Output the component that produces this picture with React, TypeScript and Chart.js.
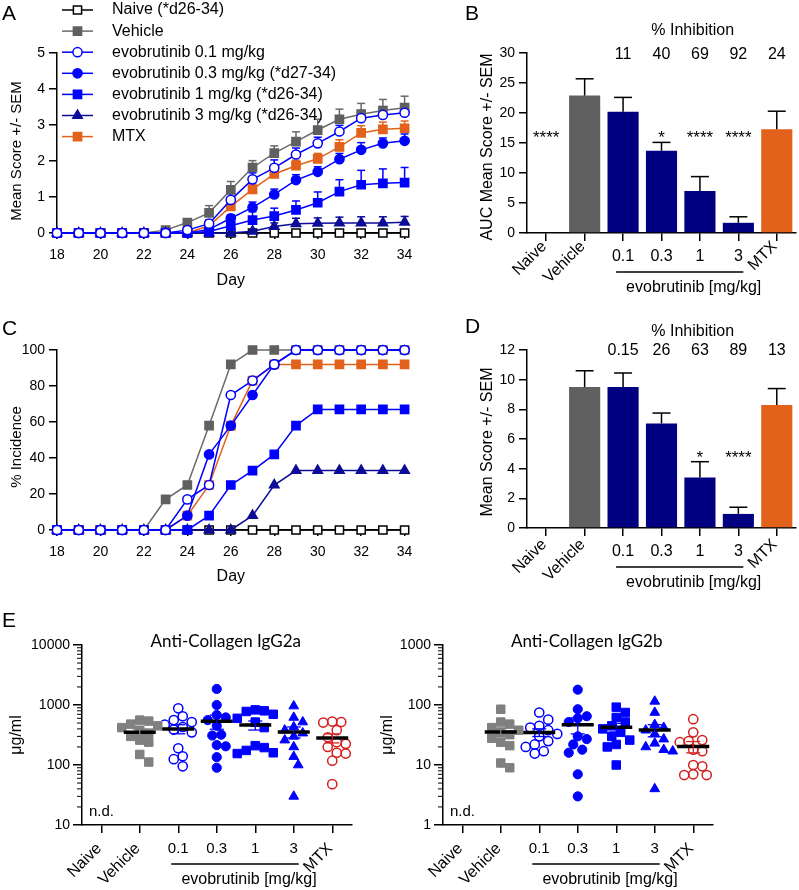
import React, { useEffect, useRef } from 'react';
import { Chart, registerables } from 'chart.js';

Chart.register(...registerables);

const FONT = '"Liberation Sans", Arial, Helvetica, sans-serif';
const TITLE_FONT = 'Lato, "Open Sans", sans-serif';
Chart.defaults.font.family = FONT;
Chart.defaults.color = '#000';

// ---------------- data ----------------
const DAYS = [18, 19, 20, 21, 22, 23, 24, 25, 26, 27, 28, 29, 30, 31, 32, 33, 34];

// Panel A: mean clinical score
const SCORE_NAIVE = [0, 0, 0, 0, 0, 0, 0, 0, 0, 0, 0, 0, 0, 0, 0, 0, 0];
const SCORE_VEHICLE = [0, 0, 0, 0, 0, 0.08, 0.29, 0.56, 1.2, 1.82, 2.22, 2.54, 2.86, 3.16, 3.3, 3.4, 3.48];
const SCORE_EVO01 = [0, 0, 0, 0, 0, 0, 0.08, 0.26, 0.92, 1.49, 1.81, 2.18, 2.49, 2.82, 3.19, 3.28, 3.34];
const SCORE_EVO03 = [0, 0, 0, 0, 0, 0, 0, 0.1, 0.41, 0.71, 1.07, 1.47, 1.7, 2.05, 2.31, 2.49, 2.56];
const SCORE_EVO1 = [0, 0, 0, 0, 0, 0, 0, 0.04, 0.2, 0.36, 0.47, 0.64, 0.84, 1.15, 1.34, 1.38, 1.4];
const SCORE_EVO3 = [0, 0, 0, 0, 0, 0, 0, 0, 0, 0.05, 0.18, 0.26, 0.27, 0.28, 0.28, 0.28, 0.3];
const SCORE_MTX = [0, 0, 0, 0, 0, 0, 0, 0.2, 0.74, 1.21, 1.64, 1.87, 2.06, 2.39, 2.78, 2.88, 2.91];

const SEM_NAIVE = [0, 0, 0, 0, 0, 0, 0, 0, 0, 0, 0, 0, 0, 0, 0, 0, 0];
const SEM_VEHICLE = [0, 0, 0, 0, 0, 0.05, 0.06, 0.2, 0.23, 0.19, 0.2, 0.27, 0.3, 0.28, 0.3, 0.31, 0.32];
const SEM_EVO01 = [0, 0, 0, 0, 0, 0, 0.05, 0.1, 0.18, 0.18, 0.22, 0.18, 0.17, 0.17, 0.21, 0.23, 0.22];
const SEM_EVO03 = [0, 0, 0, 0, 0, 0, 0, 0.05, 0.1, 0.15, 0.15, 0.15, 0.14, 0.16, 0.2, 0.15, 0.19];
const SEM_EVO1 = [0, 0, 0, 0, 0, 0, 0, 0.03, 0.1, 0.23, 0.22, 0.25, 0.3, 0.33, 0.4, 0.4, 0.42];
const SEM_EVO3 = [0, 0, 0, 0, 0, 0, 0, 0, 0, 0.04, 0.1, 0.15, 0.15, 0.16, 0.17, 0.17, 0.16];
const SEM_MTX = [0, 0, 0, 0, 0, 0, 0, 0.1, 0.15, 0.15, 0.15, 0.15, 0.15, 0.2, 0.2, 0.2, 0.2];

// Panel C: % incidence
const INC_NAIVE = [0, 0, 0, 0, 0, 0, 0, 0, 0, 0, 0, 0, 0, 0, 0, 0, 0];
const INC_VEHICLE = [0, 0, 0, 0, 0, 17, 25, 58, 92, 100, 100, 100, 100, 100, 100, 100, 100];
const INC_EVO01 = [0, 0, 0, 0, 0, 0, 17, 25, 75, 83, 92, 100, 100, 100, 100, 100, 100];
const INC_EVO03 = [0, 0, 0, 0, 0, 0, 8, 42, 58, 75, 92, 100, 100, 100, 100, 100, 100];
const INC_EVO1 = [0, 0, 0, 0, 0, 0, 0, 8, 25, 33, 42, 58, 67, 67, 67, 67, 67];
const INC_EVO3 = [0, 0, 0, 0, 0, 0, 0, 0, 0, 8, 25, 33, 33, 33, 33, 33, 33];
const INC_MTX = [0, 0, 0, 0, 0, 0, 8, 25, 58, 83, 92, 92, 92, 92, 92, 92, 92];

const LEGEND_LABELS = [
  'Naive (*d26-34)',
  'Vehicle',
  'evobrutinib 0.1 mg/kg',
  'evobrutinib 0.3 mg/kg (*d27-34)',
  'evobrutinib 1 mg/kg (*d26-34)',
  'evobrutinib 3 mg/kg (*d26-34)',
  'MTX',
];

// Panels B, D, E categories
const CATEGORIES = ['Naive', 'Vehicle', '0.1', '0.3', '1', '3', 'MTX'];

// Panel B: AUC
const AUC_MEAN = [0, 22.9, 20.2, 13.7, 7.0, 1.7, 17.3];
const AUC_SEM = [0, 2.8, 2.4, 1.4, 2.4, 1.0, 3.0];
const AUC_INHIB = ['', '', '11', '40', '69', '92', '24'];
const AUC_SIG = ['****', '', '', '*', '****', '****', ''];
const AUC_SIG_LEVEL = 15.7;

// Panel D: final score
const FINAL_MEAN = [0, 9.5, 9.5, 7.05, 3.4, 0.95, 8.3];
const FINAL_SEM = [0, 1.1, 0.95, 0.7, 1.07, 0.45, 1.1];
const FINAL_INHIB = ['', '', '0.15', '26', '63', '89', '13'];
const FINAL_SIG = ['', '', '', '', '*', '****', ''];
const FINAL_SIG_LEVEL = 4.72;

// Panel E: anti-collagen antibodies (µg/ml)
const IGG2A_VEHICLE = [560, 540, 480, 450, 420, 380, 340, 300, 260, 240, 150, 112];
const IGG2A_EVO01 = [880, 650, 560, 520, 470, 430, 390, 350, 190, 140, 125, 95];
const IGG2A_EVO03 = [1850, 1000, 680, 620, 560, 450, 320, 310, 215, 205, 135, 90];
const IGG2A_EVO1 = [830, 800, 780, 700, 600, 520, 420, 210, 195, 175, 160, 155];
const IGG2A_EVO3 = [960, 620, 520, 430, 380, 340, 300, 260, 200, 138, 100, 30];
const IGG2A_MTX = [530, 520, 510, 380, 290, 240, 225, 200, 160, 155, 118, 48];

const IGG2B_VEHICLE = [85, 52, 48, 42, 38, 35, 32, 28, 24, 21, 10.8, 9];
const IGG2B_EVO01 = [75, 57, 45, 42, 38, 33, 30, 25, 22, 20, 17, 15.5];
const IGG2B_EVO03 = [180, 85, 65, 60, 52, 30, 27, 22, 18, 16, 7, 3];
const IGG2B_EVO1 = [92, 75, 62, 52, 45, 40, 35, 30, 26, 22, 20, 10];
const IGG2B_EVO3 = [115, 75, 47, 42, 38, 33, 27, 23, 20, 18, 17, 4];
const IGG2B_MTX = [58, 35, 26, 25, 24, 18, 17, 10, 9.5, 7, 6.8, 6.8];

const LOG_TICKS_A = [10, 100, 1000, 10000];
const LOG_TICKS_B = [1, 10, 100, 1000];

// ---------------- styles ----------------
const BLUE = '#0000FF';
const NAVY = '#000080';
const NAVY_LINE = '#0C0C98';
const GRAY = '#606060';
const ORANGE = '#E2621B';
const RED = '#D41F1F';
const GRAY_E = '#808080';

type SeriesStyle = { line: string; border: string; fill: string; style: string; r: number };
const STYLE: Record<string, SeriesStyle> = {
  naive: { line: '#000000', border: '#000000', fill: '#FFFFFF', style: 'rect', r: 5.8 },
  vehicle: { line: '#6A6A6A', border: GRAY, fill: GRAY, style: 'rect', r: 5.8 },
  evo01: { line: BLUE, border: BLUE, fill: '#FFFFFF', style: 'circle', r: 4.6 },
  evo03: { line: BLUE, border: BLUE, fill: BLUE, style: 'circle', r: 4.6 },
  evo1: { line: BLUE, border: BLUE, fill: BLUE, style: 'rect', r: 5.8 },
  evo3: { line: NAVY_LINE, border: NAVY_LINE, fill: NAVY_LINE, style: 'triangle', r: 5.5 },
  mtx: { line: ORANGE, border: ORANGE, fill: ORANGE, style: 'rect', r: 5.8 },
};
const LEGEND_KEYS = ['naive', 'vehicle', 'evo01', 'evo03', 'evo1', 'evo3', 'mtx'];
const DRAW_ORDER = ['evo01', 'evo03', 'evo1', 'mtx', 'evo3', 'vehicle', 'naive'];

const SCORE: Record<string, number[]> = {
  naive: SCORE_NAIVE, vehicle: SCORE_VEHICLE, evo01: SCORE_EVO01, evo03: SCORE_EVO03,
  evo1: SCORE_EVO1, evo3: SCORE_EVO3, mtx: SCORE_MTX,
};
const SCORE_SEM: Record<string, number[]> = {
  naive: SEM_NAIVE, vehicle: SEM_VEHICLE, evo01: SEM_EVO01, evo03: SEM_EVO03,
  evo1: SEM_EVO1, evo3: SEM_EVO3, mtx: SEM_MTX,
};
const INC: Record<string, number[]> = {
  naive: INC_NAIVE, vehicle: INC_VEHICLE, evo01: INC_EVO01, evo03: INC_EVO03,
  evo1: INC_EVO1, evo3: INC_EVO3, mtx: INC_MTX,
};

const BAR_COLORS = ['#000000', GRAY, NAVY, NAVY, NAVY, NAVY, ORANGE];
const ROTATED = new Set(['Naive', 'Vehicle', 'MTX']);

const E_STYLES = [
  { style: 'rect', r: 6, fill: GRAY_E, border: GRAY_E, lw: 1 },
  { style: 'circle', r: 4.6, fill: 'rgba(0,0,0,0)', border: BLUE, lw: 1.5 },
  { style: 'circle', r: 4.6, fill: BLUE, border: BLUE, lw: 1 },
  { style: 'rect', r: 6, fill: BLUE, border: BLUE, lw: 1 },
  { style: 'triangle', r: 5.6, fill: BLUE, border: BLUE, lw: 1 },
  { style: 'circle', r: 4.6, fill: 'rgba(0,0,0,0)', border: RED, lw: 1.5 },
];

// ---------------- helpers ----------------
function drawText(ctx: CanvasRenderingContext2D, s: string, x: number, y: number, o: any = {}) {
  ctx.save();
  ctx.translate(x, y);
  if (o.rot) ctx.rotate(o.rot);
  ctx.font = `${o.size ?? 15}px ${o.family ?? FONT}`;
  ctx.fillStyle = o.color ?? '#000';
  ctx.textAlign = o.align ?? 'center';
  ctx.textBaseline = o.baseline ?? 'middle';
  ctx.fillText(s, 0, 0);
  ctx.restore();
}

function drawLine(ctx: CanvasRenderingContext2D, x0: number, y0: number, x1: number, y1: number, color = '#000', lw = 1.5) {
  ctx.save();
  ctx.strokeStyle = color;
  ctx.lineWidth = lw;
  ctx.beginPath();
  ctx.moveTo(x0, y0);
  ctx.lineTo(x1, y1);
  ctx.stroke();
  ctx.restore();
}

function drawMarker(ctx: CanvasRenderingContext2D, st: SeriesStyle, x: number, y: number) {
  ctx.save();
  ctx.fillStyle = st.fill;
  ctx.strokeStyle = st.border;
  ctx.lineWidth = 1.5;
  ctx.beginPath();
  const r = st.r;
  if (st.style === 'circle') ctx.arc(x, y, r, 0, Math.PI * 2);
  else if (st.style === 'rect') {
    const s = r * Math.SQRT1_2;
    ctx.rect(x - s, y - s, 2 * s, 2 * s);
  } else {
    ctx.moveTo(x, y - r);
    ctx.lineTo(x + Math.sin((2 * Math.PI) / 3) * r, y + r * 0.5);
    ctx.lineTo(x - Math.sin((2 * Math.PI) / 3) * r, y + r * 0.5);
    ctx.closePath();
  }
  ctx.fill();
  ctx.stroke();
  ctx.restore();
}

const axisGrid = (tickLength: number) => ({
  display: true,
  drawOnChartArea: false,
  drawTicks: true,
  tickLength,
  color: '#000',
  lineWidth: 1.5,
  offset: false,
});
const axisBorder = { display: true, color: '#000', width: 1.5 };

// simple beeswarm (layout only): horizontal offsets in category units
function swarm(values: number[], pxPerDecade = 60, minDist = 9, step = 4.5, catPx = 38.5): number[] {
  const idx = values.map((_, i) => i).sort((a, b) => values[b] - values[a]);
  const placed: { x: number; y: number }[] = [];
  const offs = values.map(() => 0);
  const cands = [0];
  for (let k = 1; k < 12; k++) cands.push(k * step, -k * step);
  for (const i of idx) {
    const y = Math.log10(values[i]) * pxPerDecade;
    for (const c of cands) {
      if (placed.every((p) => Math.hypot(p.x - c, p.y - y) >= minDist)) {
        offs[i] = c;
        placed.push({ x: c, y });
        break;
      }
    }
  }
  return offs.map((o) => o / catPx);
}

function drawCategoryAxis(chart: any, o: { numSize: number; rotDx: number; rotDy: number }) {
  const ctx = chart.ctx as CanvasRenderingContext2D;
  const xs = chart.scales.x;
  const axisY = chart.chartArea.bottom;
  CATEGORIES.forEach((c, i) => {
    const x = xs.getPixelForValue(i);
    if (ROTATED.has(c)) drawText(ctx, c, x + o.rotDx, axisY + o.rotDy, { size: 16, align: 'right', rot: -Math.PI / 4 });
    else drawText(ctx, c, x, axisY + 24, { size: o.numSize });
  });
  const xa = xs.getPixelForValue(2);
  const xb = xs.getPixelForValue(5);
  drawLine(ctx, xa - 7, axisY + 39, xb + 5, axisY + 39, '#000', 1.5);
  drawText(ctx, 'evobrutinib [mg/kg]', (xa + xb) / 2 + 13, axisY + 55, { size: 16 });
}

// ---------------- chart configs ----------------
function lineConfig(kind: 'score' | 'inc', topPad: number, canvasH: number): any {
  const src = kind === 'score' ? SCORE : INC;
  const datasets = DRAW_ORDER.map((key) => {
    const st = STYLE[key];
    return {
      label: key,
      data: DAYS.map((d, i) => ({ x: d, y: src[key][i] })),
      borderColor: st.line,
      borderWidth: 1.5,
      pointStyle: st.style,
      pointRadius: st.r,
      pointBackgroundColor: st.fill,
      pointBorderColor: st.border,
      pointBorderWidth: 1.5,
      tension: 0,
      clip: false,
    };
  });
  const plugin = {
    id: 'lineExtras' + kind,
    beforeDatasetsDraw(chart: any) {
      if (kind !== 'score') return;
      const ctx = chart.ctx;
      const xs = chart.scales.x;
      const ys = chart.scales.y;
      [...DRAW_ORDER].reverse().forEach((key) => {
        const st = STYLE[key];
        DAYS.forEach((d, i) => {
          const sem = SCORE_SEM[key][i];
          if (!sem) return;
          const x = xs.getPixelForValue(d);
          const y0 = ys.getPixelForValue(src[key][i]);
          const y1 = ys.getPixelForValue(src[key][i] + sem);
          drawLine(ctx, x, y0, x, y1, st.line, 1.5);
          drawLine(ctx, x - 4, y1, x + 4, y1, st.line, 1.5);
        });
      });
    },
    afterDraw(chart: any) {
      const ctx = chart.ctx;
      drawText(ctx, kind === 'score' ? 'Mean Score +/- SEM' : '% Incidence', 17, 151, { size: 15, rot: -Math.PI / 2 });
      if (kind !== 'score') return;
      LEGEND_KEYS.forEach((key, i) => {
        const st = STYLE[key];
        const y = 10 + i * 21.1;
        drawLine(ctx, 62, y, 93, y, st.line, 1.5);
        drawMarker(ctx, st, 77.5, y);
        drawText(ctx, LEGEND_LABELS[i], 112, y, { size: 16, align: 'left' });
      });
    },
  };
  return {
    type: 'line',
    data: { datasets },
    plugins: [plugin],
    options: {
      animation: false,
      responsive: false,
      events: [],
      layout: { padding: { left: 0, right: 15, top: topPad, bottom: 0 } },
      plugins: { legend: { display: false }, tooltip: { enabled: false } },
      scales: {
        x: {
          type: 'linear',
          min: 18,
          max: 34,
          ticks: { stepSize: 2, padding: 7.6, font: { size: 14 }, color: '#000' },
          grid: axisGrid(6),
          border: axisBorder,
          title: { display: true, text: 'Day', font: { size: 16 }, color: '#000', padding: { top: 0, bottom: 4.4 } },
          afterFit: (s: any) => { s.height = canvasH - topPad - 180; },
        },
        y: {
          min: 0,
          max: kind === 'score' ? 5 : 100,
          ticks: { stepSize: kind === 'score' ? 1 : 20, padding: 4, font: { size: 14 }, color: '#000' },
          grid: axisGrid(8),
          border: axisBorder,
          afterFit: (s: any) => { s.width = 57; },
        },
      },
    },
  };
}

function barConfig(o: {
  mean: number[]; sem: number[]; inhib: string[]; sig: string[]; sigLevel: number;
  yMax: number; step: number; topPad: number; canvasH: number; areaH: number;
  yTitle: string; inhibTitleY: number; inhibY: number; yTitleY: number; rotDy: number;
}): any {
  const plugin = {
    id: 'barExtras',
    afterDatasetsDraw(chart: any) {
      const ctx = chart.ctx;
      const xs = chart.scales.x;
      const ys = chart.scales.y;
      o.mean.forEach((m, i) => {
        if (!o.sem[i]) return;
        const x = xs.getPixelForValue(i);
        const y0 = ys.getPixelForValue(m);
        const y1 = ys.getPixelForValue(m + o.sem[i]);
        drawLine(ctx, x, y0, x, y1, '#000', 1.5);
        drawLine(ctx, x - 9, y1, x + 9, y1, '#000', 1.5);
      });
    },
    afterDraw(chart: any) {
      const ctx = chart.ctx;
      const xs = chart.scales.x;
      const ys = chart.scales.y;
      drawCategoryAxis(chart, { numSize: 16, rotDx: -2, rotDy: o.rotDy });
      const xa = xs.getPixelForValue(2);
      const xb = xs.getPixelForValue(5);
      drawText(ctx, '% Inhibition', (xa + xb) / 2 + 12, o.inhibTitleY, { size: 16 });
      o.inhib.forEach((t, i) => { if (t) drawText(ctx, t, xs.getPixelForValue(i), o.inhibY, { size: 16 }); });
      o.sig.forEach((t, i) => { if (t) drawText(ctx, t, xs.getPixelForValue(i), ys.getPixelForValue(o.sigLevel), { size: 17 }); });
      drawText(ctx, o.yTitle, 87.5, o.yTitleY, { size: 16, rot: -Math.PI / 2 });
    },
  };
  return {
    type: 'bar',
    data: {
      labels: CATEGORIES,
      datasets: [{
        data: o.mean,
        backgroundColor: BAR_COLORS,
        borderWidth: 0,
        barPercentage: 0.81,
        categoryPercentage: 1,
      }],
    },
    plugins: [plugin],
    options: {
      animation: false,
      responsive: false,
      events: [],
      layout: { padding: { left: 0, right: 3, top: o.topPad, bottom: 0 } },
      plugins: { legend: { display: false }, tooltip: { enabled: false } },
      scales: {
        x: {
          type: 'category',
          offset: true,
          ticks: { display: false },
          grid: axisGrid(8),
          border: axisBorder,
          afterFit: (s: any) => { s.height = o.canvasH - o.topPad - o.areaH; },
        },
        y: {
          min: 0,
          max: o.yMax,
          ticks: { stepSize: o.step, padding: 4, font: { size: 14 }, color: '#000' },
          grid: axisGrid(8),
          border: axisBorder,
          afterFit: (s: any) => { s.width = 127; },
        },
      },
    },
  };
}

function scatterConfig(o: {
  groups: number[][]; yMin: number; yMax: number; logTicks: number[]; title: string;
  canvasW: number; yTitleX: number;
}): any {
  const n = o.groups.length;
  const means = o.groups.map((g) => g.reduce((a, b) => a + b, 0) / g.length);
  const sems = o.groups.map((g, i) => {
    const m = means[i];
    const sd = Math.sqrt(g.reduce((a, b) => a + (b - m) ** 2, 0) / (g.length - 1));
    return sd / Math.sqrt(g.length);
  });
  const datasets: any[] = [{
    data: means.map((m, i) => ({ x: i + 1, y: m })),
    pointStyle: 'line',
    pointRadius: 16,
    pointBorderColor: '#000',
    pointBackgroundColor: '#000',
    pointBorderWidth: 3.5,
    clip: false,
  }];
  o.groups.forEach((g, gi) => {
    const st = E_STYLES[gi];
    const offs = swarm(g);
    datasets.push({
      data: g.map((v, j) => ({ x: gi + 1 + offs[j], y: v })),
      pointStyle: st.style,
      pointRadius: st.r,
      pointBackgroundColor: st.fill,
      pointBorderColor: st.border,
      pointBorderWidth: st.lw,
      clip: false,
    });
  });
  const plugin = {
    id: 'scatterExtras',
    afterDatasetsDraw(chart: any) {
      const ctx = chart.ctx;
      const xs = chart.scales.x;
      const ys = chart.scales.y;
      for (let i = 0; i < n; i++) {
        const x = xs.getPixelForValue(i + 1);
        const ylo = ys.getPixelForValue(means[i] - sems[i]);
        const yhi = ys.getPixelForValue(means[i] + sems[i]);
        const c = E_STYLES[i].border;
        drawLine(ctx, x, ylo, x, yhi, c, 1.3);
        drawLine(ctx, x - 7, ylo, x + 7, ylo, c, 1.3);
        drawLine(ctx, x - 7, yhi, x + 7, yhi, c, 1.3);
      }
    },
    afterDraw(chart: any) {
      const ctx = chart.ctx;
      const ys = chart.scales.y;
      const { left, right, top, bottom } = chart.chartArea;
      // minor log ticks
      for (let e = Math.round(Math.log10(o.yMin)); e < Math.round(Math.log10(o.yMax)); e++) {
        for (let k = 2; k <= 9; k++) {
          const y = ys.getPixelForValue(k * Math.pow(10, e));
          drawLine(ctx, left - 5, y, left, y, '#000', 1);
        }
      }
      drawCategoryAxis(chart, { numSize: 15, rotDx: -2, rotDy: 21 });
      drawText(ctx, o.title, (left + right) / 2 + 9, top - 3, { size: 17, family: TITLE_FONT });
      drawText(ctx, 'n.d.', left + 7, bottom - 13, { size: 15, align: 'left' });
      drawText(ctx, 'μg/ml', o.yTitleX, (top + bottom) / 2, { size: 16, rot: -Math.PI / 2 });
    },
  };
  return {
    type: 'scatter',
    data: { datasets },
    plugins: [plugin],
    options: {
      animation: false,
      responsive: false,
      events: [],
      layout: { padding: { left: 0, right: o.canvasW - 351.5, top: 45, bottom: 0 } },
      plugins: { legend: { display: false }, tooltip: { enabled: false } },
      scales: {
        x: {
          type: 'linear',
          min: -0.5,
          max: 6.5,
          afterBuildTicks: (s: any) => { s.ticks = CATEGORIES.map((_, i) => ({ value: i })); },
          ticks: { display: false },
          grid: axisGrid(8),
          border: axisBorder,
          afterFit: (s: any) => { s.height = 65; },
        },
        y: {
          type: 'logarithmic',
          min: o.yMin,
          max: o.yMax,
          afterBuildTicks: (s: any) => { s.ticks = o.logTicks.map((v) => ({ value: v })); },
          ticks: { callback: (v: any) => String(v), padding: 3, font: { size: 14 }, color: '#000' },
          grid: axisGrid(9),
          border: axisBorder,
          afterFit: (s: any) => { s.width = 82; },
        },
      },
    },
  };
}

// ---------------- components ----------------
function ChartBox({ left, top, width, height, make }: { left: number; top: number; width: number; height: number; make: () => any }) {
  const ref = useRef<HTMLCanvasElement | null>(null);
  useEffect(() => {
    if (!ref.current) return;
    const chart = new Chart(ref.current, make());
    return () => chart.destroy();
  }, []);
  return (
    <canvas
      ref={ref}
      width={width}
      height={height}
      style={{ position: 'absolute', left, top, width, height }}
    />
  );
}

function Letter({ ch, left, baseline }: { ch: string; left: number; baseline: number }) {
  return (
    <div style={{ position: 'absolute', left, top: baseline - 18, fontSize: 21, lineHeight: '21px', fontFamily: FONT, color: '#000' }}>
      {ch}
    </div>
  );
}

export default function App() {
  return (
    <div style={{ position: 'absolute', left: 0, top: 0, width: 799, height: 890, background: '#fff', overflow: 'hidden' }}>
      <ChartBox left={0} top={0} width={420} height={295} make={() => lineConfig('score', 53, 295)} />
      <ChartBox
        left={400} top={0} width={399} height={300}
        make={() => barConfig({
          mean: AUC_MEAN, sem: AUC_SEM, inhib: AUC_INHIB, sig: AUC_SIG, sigLevel: AUC_SIG_LEVEL,
          yMax: 30, step: 5, topPad: 53, canvasH: 300, areaH: 180,
          yTitle: 'AUC Mean Score +/- SEM', inhibTitleY: 31, inhibY: 55, yTitleY: 147, rotDy: 11,
        })}
      />
      <ChartBox left={0} top={296} width={420} height={295} make={() => lineConfig('inc', 54, 295)} />
      <ChartBox
        left={400} top={296} width={399} height={300}
        make={() => barConfig({
          mean: FINAL_MEAN, sem: FINAL_SEM, inhib: FINAL_INHIB, sig: FINAL_SIG, sigLevel: FINAL_SIG_LEVEL,
          yMax: 12, step: 2, topPad: 54, canvasH: 300, areaH: 178,
          yTitle: 'Mean Score +/- SEM', inhibTitleY: 36, inhibY: 55, yTitleY: 146, rotDy: 14,
        })}
      />
      <ChartBox
        left={0} top={600} width={400} height={290}
        make={() => scatterConfig({
          groups: [IGG2A_VEHICLE, IGG2A_EVO01, IGG2A_EVO03, IGG2A_EVO1, IGG2A_EVO3, IGG2A_MTX],
          yMin: 10, yMax: 10000, logTicks: LOG_TICKS_A, title: 'Anti-Collagen IgG2a', canvasW: 400, yTitleX: 17,
        })}
      />
      <ChartBox
        left={361} top={600} width={438} height={290}
        make={() => scatterConfig({
          groups: [IGG2B_VEHICLE, IGG2B_EVO01, IGG2B_EVO03, IGG2B_EVO1, IGG2B_EVO3, IGG2B_MTX],
          yMin: 1, yMax: 1000, logTicks: LOG_TICKS_B, title: 'Anti-Collagen IgG2b', canvasW: 438, yTitleX: 27,
        })}
      />
      <Letter ch="A" left={2} baseline={20} />
      <Letter ch="B" left={465} baseline={20} />
      <Letter ch="C" left={2} baseline={335} />
      <Letter ch="D" left={465} baseline={333} />
      <Letter ch="E" left={2} baseline={627} />
    </div>
  );
}
